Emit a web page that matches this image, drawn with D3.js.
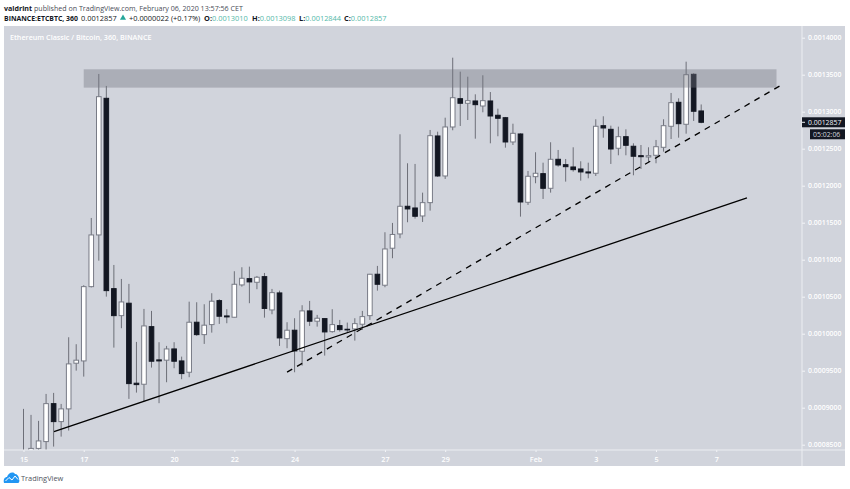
<!DOCTYPE html>
<html>
<head>
<meta charset="utf-8">
<script src="https://cdn.jsdelivr.net/npm/d3@7"></script>
<style>
  html, body { margin: 0; padding: 0; background: #fff; overflow: hidden; }
  text { font-family: "Open Sans", sans-serif; }
</style>
</head>
<body>
<svg id="chart" width="850" height="489"></svg>
<script>
// prices are in satoshi (1e-8 BTC), one candle every 6 hours
const opens = [82680,83760,84500,85420,90550,88120,89840,96010,96320,106360,113345,131810,106090,102440,104120,93310,93170,100955,96460,96420,97940,96320,94790,101550,99875,101230,104470,102400,102225,106590,107440,106950,107710,103210,105510,99330,100470,97630,103080,101690,102040,100280,101090,100600,100645,101280,102440,108035,106550,111550,113480,117220,116990,115910,117710,126720,121315,127935,131760,131140,131450,130770,131450,129520,129190,125910,126990,117760,121220,121630,119650,123570,122840,122530,122260,121860,121680,128110,127620,125060,126625,125330,124060,123880,124110,125190,128030,131270,128300,135055,130100];
const highs = [89840,89030,88220,91860,92000,90510,99520,98580,106550,115640,135100,133480,109290,107400,106730,98890,103350,103080,98850,98350,98850,96900,104330,104250,103980,105470,104660,103310,108440,108980,109060,107800,108210,106050,105820,101550,102090,103850,104430,102540,102090,103310,101860,101500,102090,103080,108080,109160,113710,114970,126950,123030,122940,119060,127530,127300,129190,137300,135410,134730,132350,134920,132660,130410,129290,128380,127080,121990,124520,123110,125870,124830,123610,125190,123300,123110,128975,129380,128110,127980,127620,125730,125500,125190,126180,128975,132530,131810,136760,135190,130980];
const lows = [81600,82680,83620,83490,84745,86095,86910,95010,94200,106250,109870,105010,98120,100740,91190,92040,90880,95420,90610,93440,95335,93850,94120,99700,98620,100145,101320,101415,102200,106360,104120,106010,102170,102630,98350,98040,94790,95690,101050,100955,97040,100145,100280,100145,99065,100510,101860,105820,106280,110200,112900,115060,115550,115100,116630,121180,120910,127490,128070,128880,126355,129920,125730,126680,125140,125500,115820,117400,120330,118210,119060,122570,120550,121900,120680,121000,121315,126490,122940,124110,124110,121410,122260,123210,123030,124600,126310,126490,127030,128750,128440];
const closes = [83490,84500,85510,90550,88120,89840,95920,96420,106360,113345,132030,105820,102440,104290,93255,93120,101050,96280,96320,97940,96280,94610,101550,99875,101150,104390,102360,102270,106680,107490,107000,107630,103415,105550,99430,100470,97670,103080,101690,102090,100240,101230,100550,100510,101360,102310,108035,106680,111450,113410,117220,116860,115870,117710,126760,121315,127935,131890,131140,131490,130950,131490,129420,129110,125910,127080,117800,121275,121680,119650,123570,122800,122570,122170,121860,121720,128030,127800,124960,126625,125460,123980,123920,124060,125270,128110,131220,128380,135000,130060,128570];

// the day labels sit under these candles
const dayCandles = [0, 8, 20, 28, 36, 48, 56, 68, 76, 84, 92];
const dayLabels = ['15', '17', '20', '22', '24', '27', '29', 'Feb', '3', '5', '7'];
const priceTicks = [140000, 135000, 130000, 125000, 120000, 115000, 110000, 105000, 100000, 95000, 90000, 85000];

const zoneCandles = [8, 100];
const zonePrices = [135730, 133250];
const solidCandles = [4.05, 96.08];
const solidPrices = [86770, 118340];
const dashedCandles = [35, 100.5];
const dashedPrices = [94800, 133520];

const lastPrice = 128570;

const svg = d3.select('#chart');

const plotLeft = 4, plotRight = 802, outer = 845, plotTop = 26, plotBottom = 450, panelBottom = 466;

const x = d3.scaleLinear().domain([0, 90]).range([23.5, 701.2]);
const y = d3.scaleLinear().domain([140000, 85000]).range([37.7, 444.7]);

const fmt = v => d3.format('.7f')(v / 1e8);

svg.append('rect').attr('x', plotLeft).attr('y', plotTop).attr('width', outer - plotLeft).attr('height', panelBottom - plotTop).attr('fill', '#d1d4dc');

svg.append('clipPath').attr('id', 'plot').append('rect')
  .attr('x', plotLeft).attr('y', plotTop).attr('width', plotRight - plotLeft).attr('height', plotBottom - plotTop);

const plot = svg.append('g').attr('clip-path', 'url(#plot)');

const candles = d3.range(opens.length);
const bodyW = 4.6;

plot.selectAll('.wick').data(candles).join('line')
  .attr('class', 'wick')
  .attr('x1', i => x(i)).attr('x2', i => x(i))
  .attr('y1', i => y(highs[i])).attr('y2', i => y(lows[i]))
  .attr('stroke', '#6d6f78').attr('stroke-width', 1);

plot.selectAll('.body').data(candles).join('rect')
  .attr('class', 'body')
  .attr('x', i => x(i) - bodyW / 2)
  .attr('width', bodyW)
  .attr('y', i => y(Math.max(opens[i], closes[i])))
  .attr('height', i => Math.abs(y(opens[i]) - y(closes[i])))
  .attr('fill', i => closes[i] >= opens[i] ? '#ffffff' : '#131722')
  .attr('stroke', i => closes[i] >= opens[i] ? '#787b86' : '#131722')
  .attr('stroke-width', 1);

// resistance zone goes over the candles
plot.append('rect')
  .attr('x', x(zoneCandles[0]))
  .attr('width', x(zoneCandles[1]) - x(zoneCandles[0]))
  .attr('y', y(zonePrices[0]))
  .attr('height', y(zonePrices[1]) - y(zonePrices[0]))
  .attr('fill', '#73767f').attr('fill-opacity', 0.4);

const trend = d3.line().x(d => x(d[0])).y(d => y(d[1]));

plot.append('path')
  .attr('d', trend(d3.zip(solidCandles, solidPrices)))
  .attr('fill', 'none').attr('stroke', '#000').attr('stroke-width', 1.3);

plot.append('path')
  .attr('d', trend(d3.zip(dashedCandles, dashedPrices)))
  .attr('fill', 'none').attr('stroke', '#000').attr('stroke-width', 1.3)
  .attr('stroke-dasharray', '6 5.5');

// axes
const xAxis = d3.axisBottom(x)
  .tickValues(dayCandles)
  .tickFormat((d, i) => dayLabels[i])
  .tickSize(2).tickPadding(5);

const xG = svg.append('g').attr('transform', 'translate(0,' + plotBottom + ')').call(xAxis);
xG.select('.domain').remove();
xG.selectAll('line').attr('stroke', '#f4f5f8');
xG.selectAll('text').attr('fill', '#fff').attr('font-size', 7.2).attr('font-weight', 600).style('font-family', '"Open Sans", sans-serif');

const yAxis = d3.axisRight(y)
  .tickValues(priceTicks)
  .tickFormat(fmt)
  .tickSize(3).tickPadding(3);

const yG = svg.append('g').attr('transform', 'translate(' + plotRight + ',0)').call(yAxis);
yG.select('.domain').remove();
yG.selectAll('line').attr('stroke', '#f4f5f8');
yG.selectAll('text').attr('fill', '#fff').attr('font-size', 6.9).attr('font-weight', 600).style('font-family', '"Open Sans", sans-serif');

svg.append('line').attr('x1', plotLeft).attr('x2', outer).attr('y1', plotBottom).attr('y2', plotBottom).attr('stroke', '#eceef2');
svg.append('line').attr('x1', plotRight).attr('x2', plotRight).attr('y1', plotTop).attr('y2', panelBottom).attr('stroke', '#eceef2');

// last price tag and countdown
const tagY = y(lastPrice);
svg.append('rect').attr('x', plotRight).attr('y', tagY - 5).attr('width', outer - plotRight).attr('height', 10).attr('fill', '#131722');
svg.append('line').attr('x1', plotRight).attr('x2', plotRight + 3).attr('y1', tagY).attr('y2', tagY).attr('stroke', '#eef0f4');
svg.append('text').attr('x', plotRight + 6).attr('y', tagY + 2.6).attr('fill', '#f0f3fa').attr('font-size', 6.9).text(fmt(lastPrice));
svg.append('rect').attr('x', 810).attr('y', tagY + 7).attr('width', outer - 810).attr('height', 10).attr('fill', '#131722');
svg.append('text').attr('x', 813).attr('y', tagY + 14.6).attr('fill', '#d1d4dc').attr('font-size', 6.9).text('05:02:06');

// chart title
svg.append('text').attr('x', 10).attr('y', 39.5).attr('fill', '#fff').attr('font-size', 7.2).attr('font-weight', 600)
  .text('Ethereum Classic / Bitcoin, 360, BINANCE');

// header lines
const line1 = svg.append('text').attr('x', 4).attr('y', 10.5).attr('fill', '#131722').attr('font-size', 7.1);
line1.append('tspan').attr('font-weight', 700).text('valdrint');
line1.append('tspan').attr('fill', '#4a4d57').text(' published on TradingView.com, February 06, 2020 13:57:56 CET');

const teal = '#53b9a9';
svg.append('text').attr('x', 4).attr('y', 21).attr('fill', '#131722').attr('font-size', 6.9).attr('font-weight', 700).text('BINANCE:ETCBTC, 360');
svg.append('text').attr('x', 81).attr('y', 21).attr('fill', '#131722').attr('font-size', 7.4).text('0.0012857');
svg.append('path').attr('d', d3.symbol(d3.symbolTriangle, 16)()).attr('transform', 'translate(123,18)').attr('fill', '#26a69a');
svg.append('text').attr('x', 129).attr('y', 21).attr('fill', '#131722').attr('font-size', 7.4).text('+0.0000022 (+0.17%)');

const ohlcLabels = ['O:', 'H:', 'L:', 'C:'];
const ohlcValues = ['0.0013010', '0.0013098', '0.0012844', '0.0012857'];
const ohlcX = [204, 252, 299, 344];
ohlcLabels.forEach((l, i) => {
  const t = svg.append('text').attr('x', ohlcX[i]).attr('y', 21).attr('font-size', 7.4);
  t.append('tspan').attr('font-weight', 700).attr('fill', '#131722').text(l);
  t.append('tspan').attr('fill', teal).text(ohlcValues[i]);
});

// logo
const logo = svg.append('g').attr('transform', 'translate(4,472)');
logo.append('path')
  .attr('d', 'M0,11 C-1,7 1,5 3,5 C4,1 9,-1 11,2 C13,2 15,4 15,7 C16,9 15,11 14,11 Z')
  .attr('fill', '#2196f3');
logo.append('path')
  .attr('d', 'M1.5,9 L5,5.5 L8,8 L11,4 L14,7.5')
  .attr('fill', 'none').attr('stroke', '#fff').attr('stroke-width', 1);
svg.append('text').attr('x', 21).attr('y', 480.5).attr('fill', '#50535e').attr('font-size', 7.4).text('TradingView');
</script>
</body>
</html>
